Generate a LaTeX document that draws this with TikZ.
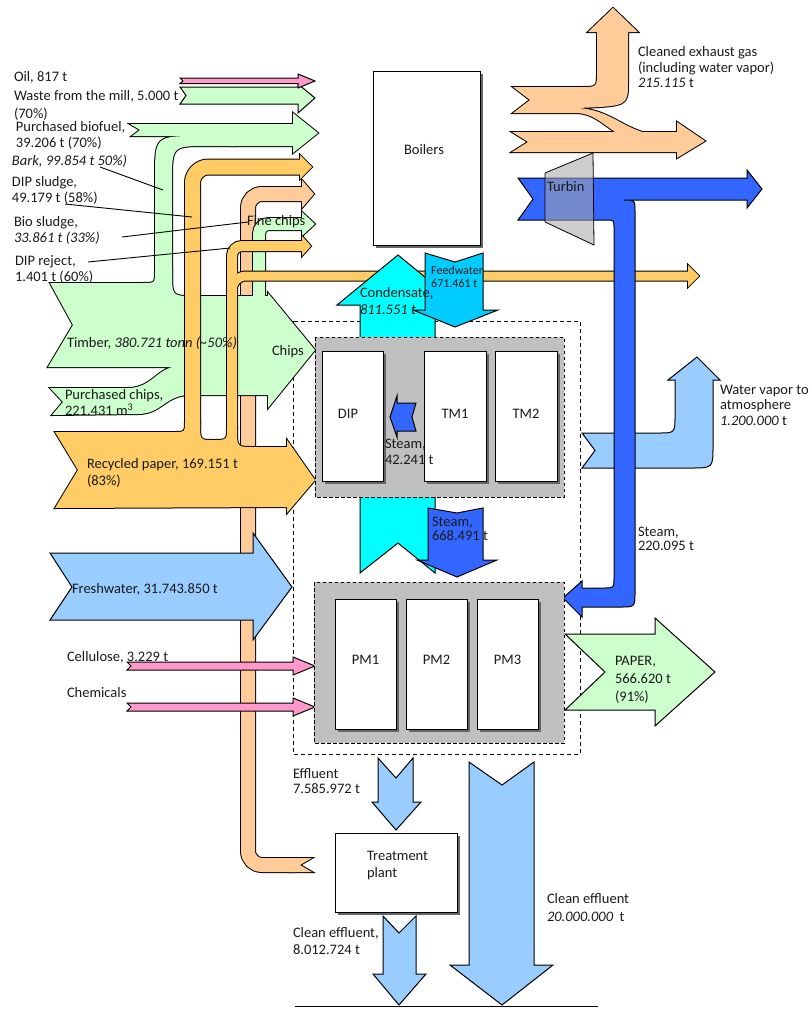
\documentclass[tikz,border=0pt]{standalone}
\usepackage{fontspec}
\setmainfont{Carlito}
\usetikzlibrary{shadows}
\definecolor{chipgreen}{HTML}{CCFFCC}
\definecolor{paperorange}{HTML}{FFCC66}
\definecolor{sludgepeach}{HTML}{FFCC99}
\definecolor{waterblue}{HTML}{99CCFF}
\definecolor{steamblue}{HTML}{3366FF}
\definecolor{condcyan}{HTML}{00FFFF}
\definecolor{feedcyan}{HTML}{00CCFF}
\definecolor{chempink}{HTML}{FF99CC}
\definecolor{millgrey}{HTML}{C0C0C0}
\definecolor{ink}{HTML}{1A1A1A}
\begin{document}
\begin{tikzpicture}[x=1pt,y=-1pt,
  txt/.style={font=\fontsize{14.5}{16.5}\selectfont, inner sep=0pt, outer sep=0pt, text=ink},
  lbl/.style={txt, align=left, anchor=west},
  ctr/.style={txt, anchor=center},
  small/.style={font=\fontsize{12}{13}\selectfont, inner sep=0pt, text=ink, align=left, anchor=west},
  rim/.style={draw=black, line width=2pt},
  arr/.style={draw=black, line width=1pt},
  unit/.style={draw=black, line width=1pt, fill=white, inner sep=0pt,
    drop shadow={shadow xshift=2.5pt, shadow yshift=-2.5pt, fill=black!60, opacity=1}},
  hall/.style={draw=black, line width=0.9pt, fill=millgrey, dash pattern=on 3.5pt off 2.5pt},
  site/.style={draw=black, line width=0.9pt, dash pattern=on 4pt off 3pt},
  lead/.style={draw=black, line width=0.9pt},
]
\useasboundingbox (0,0) rectangle (811,1009);

% ---------- dashed mill boundary ----------
\draw[site] (293,321) rectangle (580,754);

% ---------- bio sludge band: treatment plant -> boilers ----------
\def\bioband{(296,865) -- (248,865) -- (248,194) -- (303,194)}
\def\biohead{(302,180) -- (314,194) -- (302,208) -- cycle}
\def\biotail{(290,858) -- (312,858) -- (300,865) -- (312,872) -- (290,872) -- cycle}
\draw[line width=16pt, rounded corners=14pt] \bioband;
\draw[rim] \biohead; \draw[rim] \biotail;
\draw[sludgepeach, line width=14pt, rounded corners=14pt] \bioband;
\fill[sludgepeach] \biohead; \fill[sludgepeach] \biotail;

% ---------- wood flows: timber, purchased chips, bark, biofuel, fine chips ----------
\def\timber{(50,283) -- (143,283) .. controls (155,283) .. (155,271) -- (172,271) .. controls (172,296) .. (192,296) -- (268,296) -- (268,293) -- (315,350) -- (268,408) -- (268,395) -- (190,395) .. controls (165,395) and (162,414) .. (138,414) -- (52,415) -- (63,402) -- (50,388) -- (128,388) .. controls (152,388) and (158,367) .. (176,367) -- (48,367) -- (73,325) -- cycle}
\def\bark{(155,290) -- (155,178) .. controls (155,136) .. (200,136) -- (235,136) -- (235,146) -- (208,146) .. controls (172,146) .. (172,182) -- (172,290) -- cycle}
\def\biofuel{(130,124) -- (293,124) -- (293,113) -- (318,133) -- (293,153) -- (293,146) -- (230,146) -- (230,136) -- (132,136) -- (140,130) -- cycle}
\def\fineband{(259,303) -- (259,224) -- (303,224)}
\def\finehead{(302,212) -- (315,224) -- (302,236) -- cycle}
\draw[rim] \timber; \draw[rim] \bark; \draw[rim] \biofuel;
\draw[line width=14pt, rounded corners=10pt] \fineband; \draw[rim] \finehead;
\fill[chipgreen] \timber; \fill[chipgreen] \bark; \fill[chipgreen] \biofuel;
\draw[chipgreen, line width=12pt, rounded corners=10pt] \fineband; \fill[chipgreen] \finehead;

% waste from the mill and oil
\draw[arr, fill=chipgreen] (180,87) -- (298,87) -- (298,84) -- (315,98) -- (298,113) -- (298,104) -- (180,104) -- (186,95.5) -- cycle;
\draw[arr, fill=chempink] (180,78) -- (298,78) -- (298,74) -- (315,81) -- (298,88) -- (298,83.5) -- (180,83.5) -- (183,81) -- cycle;

% ---------- recycled paper and its side streams ----------
\def\recycled{(55,432) -- (175,432) .. controls (185,432) .. (185,422) -- (200,422) .. controls (200,440) .. (212,440) .. controls (227,440) .. (227,428) -- (237,428) .. controls (237,447) .. (252,447) -- (287,447) -- (287,440) -- (315,480) -- (287,513) -- (287,507) -- (55,508) -- (78,470) -- cycle}
\def\sludgeband{(192.5,430) -- (192.5,167) -- (301,167)}
\def\sludgehead{(300,155) -- (312,167) -- (300,179) -- cycle}
\def\rejectband{(232,430) -- (232,246) -- (303,246)}
\def\rejecthead{(302,236) -- (311,246) -- (302,256) -- cycle}
\def\longband{(232,430) -- (232,276) -- (689,276)}
\def\longhead{(688,265) -- (699,276) -- (688,287) -- cycle}
\draw[rim] \recycled;
\draw[line width=17pt, rounded corners=16pt] \sludgeband; \draw[rim] \sludgehead;
\draw[line width=12pt, rounded corners=10pt] \rejectband; \draw[rim] \rejecthead;
\draw[line width=11pt, rounded corners=14pt] \longband; \draw[rim] \longhead;
\fill[paperorange] \recycled;
\draw[paperorange, line width=15pt, rounded corners=16pt] \sludgeband; \fill[paperorange] \sludgehead;
\draw[paperorange, line width=10pt, rounded corners=10pt] \rejectband; \fill[paperorange] \rejecthead;
\draw[paperorange, line width=9pt, rounded corners=14pt] \longband; \fill[paperorange] \longhead;

% ---------- freshwater, cellulose, chemicals ----------
\draw[arr, fill=waterblue] (50,553) -- (253,553) -- (253,533) -- (292,587) -- (253,640) -- (253,620) -- (50,620) -- (72,587) -- cycle;
\draw[arr, fill=chempink] (127,662) -- (293,662) -- (293,657) -- (315,666) -- (293,675) -- (293,670) -- (127,670) -- (131,666) -- cycle;
\draw[arr, fill=chempink] (127,703) -- (293,703) -- (293,698) -- (315,707) -- (293,716) -- (293,711) -- (127,711) -- (131,707) -- cycle;

% ---------- cleaned exhaust gas ----------
\def\exup{(513,87) -- (582,87) .. controls (597,87) .. (597,72) -- (597,32) -- (588,32) -- (613,8) -- (638,32) -- (628,32) -- (628,82) .. controls (628,106) .. (578,108) .. controls (610,110) and (622,128) .. (650,134) -- (618,134) .. controls (600,122) and (592,113) .. (575,113) -- (513,113) -- (530,100) -- cycle}
\def\exlow{(512,132) -- (677,132) -- (677,122) -- (705,141) -- (677,158) -- (677,152) -- (512,152) -- (528,142) -- cycle}
\draw[rim] \exup; \draw[rim] \exlow;
\fill[sludgepeach] \exup; \fill[sludgepeach] \exlow;

% ---------- water vapour ----------
\draw[arr, fill=waterblue] (582,433) -- (658,433) .. controls (675,433) .. (675,416) -- (675,380) -- (668,380) -- (697,357) -- (720,380) -- (713,380) -- (713,446) .. controls (713,468) .. (691,468) -- (582,468) -- (595,450.5) -- cycle;

% ---------- steam from the turbine ----------
\draw[arr, fill=steamblue] (518,178) -- (747,178) -- (747,170) -- (762,189) -- (747,208) -- (747,200) -- (624,200) .. controls (635,200) .. (635,212) -- (635,592) .. controls (635,607) .. (620,607) -- (582,607) -- (582,617) -- (563,598) -- (582,581) -- (582,588) -- (604,588) .. controls (614,588) .. (614,578) -- (614,228) .. controls (614,220) .. (606,220) -- (518,220) -- (533,199) -- cycle;
\draw[draw=black, line width=0.8pt, fill=black!35, fill opacity=0.55] (545,173) -- (593,153) -- (594,245) -- (545,222) -- cycle;

% ---------- condensate, process halls and machines ----------
\draw[arr, fill=condcyan] (360,573) -- (398,543) -- (435,573) -- (435,305) -- (459,305) -- (398,255) -- (337,305) -- (360,305) -- cycle;
\draw[hall] (315,337) rectangle (564,497);
\draw[hall] (314,582) rectangle (564,743);
\node[unit, minimum width=61pt, minimum height=130pt] (dip) at (352.5,416) {};
\node[unit, minimum width=62pt, minimum height=130pt] (tm1) at (455,416) {};
\node[unit, minimum width=62pt, minimum height=130pt] (tm2) at (526,416) {};
\node[unit, minimum width=61pt, minimum height=130pt] (pm1) at (365.5,664) {};
\node[unit, minimum width=61pt, minimum height=130pt] (pm2) at (436.5,664) {};
\node[unit, minimum width=61pt, minimum height=130pt] (pm3) at (507.5,664) {};
\draw[arr, fill=feedcyan] (425,253) -- (455,262) -- (483,253) -- (483,310) -- (498,310) -- (455,327) -- (413,310) -- (425,310) -- cycle;
\draw[arr, fill=steamblue] (397,396) -- (397,403) -- (416,403) -- (412,417) -- (416,431) -- (397,431) -- (397,437) -- (390,417) -- cycle;
\draw[arr, fill=steamblue] (428,508) -- (457,513) -- (483,508) -- (483,560) -- (497,560) -- (457,577) -- (417,560) -- (428,560) -- cycle;

% ---------- product and effluents ----------
\draw[arr, fill=chipgreen] (565,634) -- (655,634) -- (655,618) -- (715,672) -- (655,726) -- (655,710) -- (565,710) -- (605,672) -- cycle;
\draw[arr, fill=waterblue] (378,758) -- (396,778) -- (413,758) -- (413,802) -- (421,802) -- (396,830) -- (372,802) -- (378,802) -- cycle;
\draw[arr, fill=waterblue] (383,916) -- (399,933) -- (416,916) -- (416,974) -- (426,974) -- (399,1005) -- (373,974) -- (383,974) -- cycle;
\draw[arr, fill=waterblue] (469,762) -- (502,785) -- (534,762) -- (534,965) -- (553,965) -- (502,1005) -- (450,965) -- (469,965) -- cycle;
\coordinate (groundL) at (295,1006);
\coordinate (groundR) at (598,1006);
\draw[line width=1pt] (groundL) -- (groundR);

% ---------- boilers and treatment plant ----------
\node[unit, minimum width=107pt, minimum height=174pt] (boilers) at (426.5,158) {};
\node[unit, minimum width=122pt, minimum height=79pt] (treat) at (396,872.5) {};

% ---------- leader lines ----------
\coordinate (barkA) at (100,167);   \coordinate (barkB) at (163,190);
\coordinate (dipslA) at (65,204);   \coordinate (dipslB) at (192,217);
\coordinate (bioslA) at (122,237);  \coordinate (bioslB) at (248,222);
\coordinate (diprejA) at (88,262);  \coordinate (diprejB) at (230,248);
\draw[lead] (barkA) -- (barkB);
\draw[lead] (dipslA) -- (dipslB);
\draw[lead] (bioslA) -- (bioslB);
\draw[lead] (diprejA) -- (diprejB);

% ---------- labels ----------
\node[lbl] (oilT) at (14,77) {Oil, 817 t};
\node[lbl, font=\fontsize{14.5}{18}\selectfont] (wasteT) at (14,105) {Waste from the mill, 5.000 t\\(70\%)};
\node[lbl, font=\fontsize{14.5}{16}\selectfont] (biofuelT) at (16,135) {Purchased biofuel,\\39.206 t (70\%)};
\node[lbl] (barkT) at (12,161) {\itshape Bark, 99.854 t 50\%)};
\node[lbl, font=\fontsize{14.5}{15.5}\selectfont] (dipslT) at (12,190.5) {DIP sludge,\\49.179 t (58\%)};
\node[lbl, font=\fontsize{14.5}{15.5}\selectfont] (bioslT) at (14,230.5) {Bio sludge,\\\textit{33.861 t (33\%)}};
\node[lbl, font=\fontsize{14.5}{15.5}\selectfont] (diprejT) at (15,269.5) {DIP reject,\\1.401 t (60\%)};
\node[lbl] (timberT) at (67,343) {Timber, \textit{380.721 tonn (\textasciitilde 50\%)}};
\node[lbl, font=\fontsize{14.5}{16}\selectfont] (pchipsT) at (65,403) {Purchased chips,\\221.431 m\textsuperscript{3}};
\node[lbl, font=\fontsize{14.5}{17}\selectfont] (recT) at (87,473) {Recycled paper, 169.151 t\\(83\%)};
\node[lbl] (chipsT) at (272,352) {Chips};
\node[lbl] (fineT) at (247,222) {Fine chips};
\node[lbl] (freshT) at (72,589) {Freshwater, 31.743.850 t};
\node[lbl] (celT) at (67,657) {Cellulose, 3.229 t};
\node[lbl] (chemT) at (67,693) {Chemicals};

\node[ctr] (boilersT) at (424,150) {Boilers};
\node[lbl, font=\fontsize{14.5}{17}\selectfont] (condT) at (360,301.5) {Condensate,\\\textit{811.551 t}};
\node[small] (feedT) at (431,276.5) {Feedwater\\671.461 t};
\node[ctr] (dipT) at (348,414) {DIP};
\node[ctr] (tm1T) at (455,414) {TM1};
\node[ctr] (tm2T) at (526,414) {TM2};
\node[lbl, font=\fontsize{14.5}{16}\selectfont] (st42T) at (385,452) {Steam,\\42.241 t};
\node[lbl, font=\fontsize{14.5}{14.5}\selectfont] (st668T) at (432,529) {Steam,\\668.491 t};
\node[lbl] (turbT) at (547,187) {Turbin};
\node[lbl, font=\fontsize{14.5}{15.5}\selectfont] (exT) at (638,67.5) {Cleaned exhaust gas\\(including water vapor)\\\textit{215.115} t};
\node[lbl, font=\fontsize{14.5}{15.5}\selectfont] (vapT) at (720,405) {Water vapor to\\atmosphere\\\textit{1.200.000} t};
\node[lbl, font=\fontsize{14.5}{14.5}\selectfont] (st220T) at (638,539) {Steam,\\220.095 t};
\node[ctr] (pm1T) at (365.5,660) {PM1};
\node[ctr] (pm2T) at (436.5,660) {PM2};
\node[ctr] (pm3T) at (507.5,660) {PM3};
\node[lbl, font=\fontsize{14.5}{18}\selectfont] (paperT) at (615,680) {PAPER,\\566.620 t\\(91\%)};
\node[lbl, font=\fontsize{14.5}{15.5}\selectfont] (effT) at (293,781) {Effluent\\7.585.972 t};
\node[lbl, font=\fontsize{14.5}{17}\selectfont] (treatT) at (367,865.5) {Treatment\\plant};
\node[lbl, font=\fontsize{14.5}{17}\selectfont] (clean1T) at (293,941) {Clean effluent,\\8.012.724 t};
\node[lbl, font=\fontsize{14.5}{18}\selectfont] (clean2T) at (547,908) {Clean effluent\\\textit{20.000.000}\ \ t};
\end{tikzpicture}
\end{document}
